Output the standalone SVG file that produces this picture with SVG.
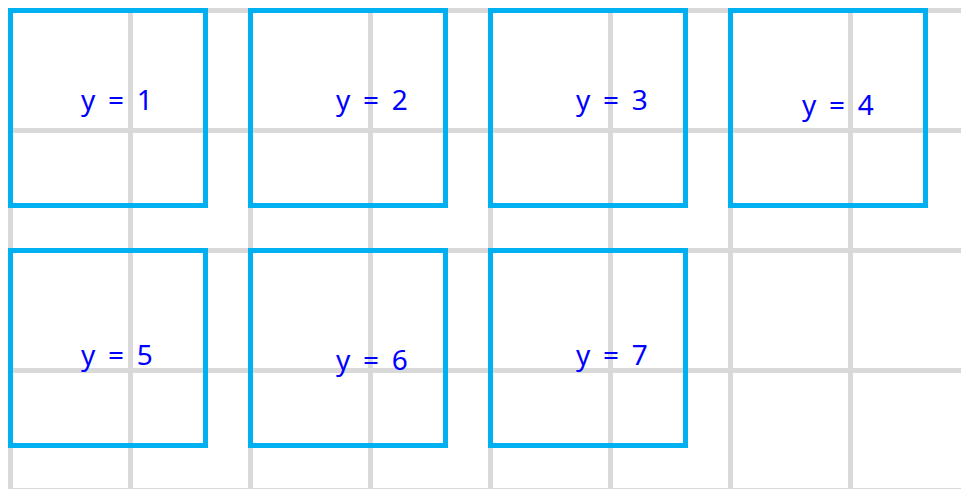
<svg xmlns="http://www.w3.org/2000/svg" width="961" height="489" viewBox="0 0 961 489">
<style>
.grid{stroke:#d9d9d9;stroke-width:5;fill:none}
.box{fill:none;stroke:#00b0f0;stroke-width:5;stroke-linejoin:miter}
.lbl{font-family:"Noto Sans","Liberation Sans",Arial,sans-serif;font-size:28px;fill:#0000ff;word-spacing:5.5px}
</style>
<rect width="961" height="489" fill="#ffffff"/>
<g id="grid" class="grid">
<path d="M10.5 8V489M130.5 8V489M250.5 8V489M370.5 8V489M490.5 8V489M610.5 8V489M730.5 8V489M850.5 8V489"/>
<path d="M8 10.5H961M8 130.5H961M8 250.5H961M8 370.5H961M8 490.5H961"/>
</g>
<g id="node1"><rect class="box" x="10.5" y="10.5" width="195" height="195"/><text class="lbl" x="81" y="110">y = 1</text></g>
<g id="node2"><rect class="box" x="250.5" y="10.5" width="195" height="195"/><text class="lbl" x="336" y="110">y = 2</text></g>
<g id="node3"><rect class="box" x="490.5" y="10.5" width="195" height="195"/><text class="lbl" x="576" y="110">y = 3</text></g>
<g id="node4"><rect class="box" x="730.5" y="10.5" width="195" height="195"/><text class="lbl" x="802" y="115">y = 4</text></g>
<g id="node5"><rect class="box" x="10.5" y="250.5" width="195" height="195"/><text class="lbl" x="81" y="365">y = 5</text></g>
<g id="node6"><rect class="box" x="250.5" y="250.5" width="195" height="195"/><text class="lbl" x="336" y="370">y = 6</text></g>
<g id="node7"><rect class="box" x="490.5" y="250.5" width="195" height="195"/><text class="lbl" x="576" y="365">y = 7</text></g>
<g id="connectors"/>
</svg>
